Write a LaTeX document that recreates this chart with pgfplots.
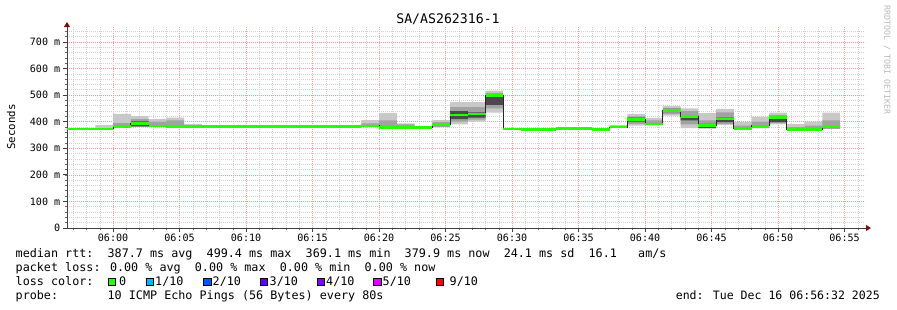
\documentclass[border=0pt]{standalone}
\usepackage{fontspec}
\setmainfont{DejaVu Sans Mono}
\usepackage{pgfplots}
\pgfplotsset{compat=1.18}
\usepackage{pgfplotstable}
\usepgfplotslibrary{fillbetween}
\usetikzlibrary{arrows.meta}
\definecolor{loss0}{HTML}{26FF00}
\definecolor{loss1}{HTML}{00B8FF}
\definecolor{loss2}{HTML}{0059FF}
\definecolor{loss3}{HTML}{5E00FF}
\definecolor{loss4}{HTML}{7E00FF}
\definecolor{loss5}{HTML}{DD00FF}
\definecolor{loss9}{HTML}{FF0000}
\definecolor{smokeA}{HTML}{C8C8C8}
\definecolor{smokeB}{HTML}{A2A2A2}
\definecolor{smokeC}{HTML}{4A4A4A}
\definecolor{arrowred}{HTML}{7F1010}
\newcommand\lgd{\fontsize{11.75bp}{14bp}\selectfont}

\pgfplotstableread{
t med lo hi ilo ihi dlo dhi
-4.000 372.6 372.6 372.6 372.6 372.6 372.6 372.6
-2.667 372.6 372.6 372.6 372.6 372.6 372.6 372.6
-1.333 372.6 372 387 372 376 372 372
0.000 384 379 429 380 395 379 383
1.333 394 380 421 381 410 382 401
2.667 384 381 410 382 400 382 382
4.000 381 380 415 381 405 381 381
5.333 381 380 391 380 384 380 380
6.667 381 381 381 381 381 381 381
8.000 381 380 387 380 383 380 380
9.333 381 381 381 381 381 381 381
10.667 381 381 381 381 381 381 381
12.000 381 381 381 381 381 381 381
13.333 381 381 381 381 381 381 381
14.667 381 381 381 381 381 381 381
16.000 381 381 381 381 381 381 381
17.333 381 380 387 380 383 380 380
18.667 384 381 406 383 394 383 383
20.000 378 376 433 377 405 377 377
21.333 378 377 394 378 390 378 378
22.667 378 378 378 378 378 378 378
24.000 390 379 406 381 398 383 392
25.333 425 390 474 400 455 410 440
26.667 429 400 474 408 455 415 435
28.000 500 434 517 450 508 463 497
29.333 372.6 372.6 372.6 372.6 372.6 372.6 372.6
30.667 370 370 370 370 370 370 370
32.000 370 370 370 370 370 370 370
33.333 374 374 374 374 374 374 374
34.667 374 374 374 374 374 374 374
36.000 371 371 371 371 371 371 371
37.333 380 378 388 379 384 379 379
38.667 409 385 428 392 420 400 415
40.000 391 386 414 388 405 388 388
41.333 442 423 459 428 452 436 448
42.667 419 376 450 390 440 405 425
44.000 385 374 432 376 405 377 392
45.333 410 388 448 392 435 398 415
46.667 375 372 398 373 385 373 373
48.000 384 375 419 378 400 378 378
49.333 417 390 434 395 425 398 413
50.667 372 371 391 372 380 372 372
52.000 371 370 400 371 385 371 371
53.333 380 374 434 376 405 375 381
54.667 380 374 434 376 405 375 381
}\smoke

\begin{document}
\begin{tikzpicture}
\path (0,0) rectangle (897bp,-310bp);
\begin{axis}[
  at={(67bp,-228bp)}, anchor=south west,
  scale only axis, width=798bp, height=202bp,
  xmin=-3.467, xmax=56.533, ymin=0, ymax=760,
  axis x line=bottom, axis y line=left,
  axis line style={draw=black!75, line width=0.8bp},
  x axis line style={-{Triangle[length=5bp,width=6bp,fill=arrowred,color=arrowred]}, shorten >=-6bp},
  y axis line style={-{Triangle[length=5bp,width=6bp,fill=arrowred,color=arrowred]}, shorten >=-4bp},
  xtick={0,5,...,55},
  xticklabels={06:00,06:05,06:10,06:15,06:20,06:25,06:30,06:35,06:40,06:45,06:50,06:55},
  minor xtick={-3,-2,...,56},
  ytick={0,100,...,700},
  yticklabels={0,100 m,200 m,300 m,400 m,500 m,600 m,700 m},
  minor ytick={20,40,...,740},
  grid=both,
  major grid style={red!40, dash pattern=on 1bp off 1bp, line width=0.6bp},
  minor grid style={black!18, dash pattern=on 1bp off 1bp, line width=0.6bp},
  tick align=outside, major tick length=4bp, minor tick length=2bp,
  tick style={black!75, line width=0.8bp},
  minor tick style={black!60, line width=0.6bp},
  ticklabel style={font=\fontsize{10.1bp}{12bp}\selectfont, text=black, inner sep=0pt},
  xticklabel style={anchor=north, yshift=-1.6bp},
  yticklabel style={anchor=east, xshift=-2.5bp},
]
\addplot[name path=A1, draw=none, const plot] table[x=t,y=lo]{\smoke};
\addplot[name path=A2, draw=none, const plot] table[x=t,y=hi]{\smoke};
\addplot[fill=smokeA, draw=none] fill between[of=A1 and A2];
\addplot[name path=B1, draw=none, const plot] table[x=t,y=ilo]{\smoke};
\addplot[name path=B2, draw=none, const plot] table[x=t,y=ihi]{\smoke};
\addplot[fill=smokeB, draw=none] fill between[of=B1 and B2];
\addplot[name path=C1, draw=none, const plot] table[x=t,y=dlo]{\smoke};
\addplot[name path=C2, draw=none, const plot] table[x=t,y=dhi]{\smoke};
\addplot[fill=smokeC, draw=none] fill between[of=C1 and C2];
\addplot[const plot, color=black!85, line width=1bp] table[x=t,y=med]{\smoke};
\addplot[jump mark left, color=loss0, line width=2.8bp] table[x=t,y=med]{\smoke};
\end{axis}
\node[font=\fontsize{13.2bp}{15bp}\selectfont] at (448bp,-19bp) {SA/AS262316-1};
\node[rotate=90, font=\fontsize{10.8bp}{12bp}\selectfont] at (11bp,-127bp) {Seconds};
\node[rotate=-90, font=\fontsize{8.3bp}{10bp}\selectfont, text=black!28] at (887bp,-60bp) {RRDTOOL / TOBI OETIKER};
\node[anchor=base west, inner sep=0, font=\lgd] at (15.5bp,-257.8bp) {median rtt:~~387.7 ms avg~~499.4 ms max~~369.1 ms min~~379.9 ms now~~24.1 ms sd~~16.1~~~am/s};
\node[anchor=base west, inner sep=0, font=\lgd] at (15.5bp,-271.8bp) {packet loss: 0.00 \% avg~~0.00 \% max~~0.00 \% min~~0.00 \% now};
\node[anchor=base west, inner sep=0, font=\lgd] at (15.5bp,-285.8bp) {loss color:};
\node[anchor=base west, inner sep=0, font=\lgd] at (15.5bp,-299.8bp) {probe:~~~~~~~10 ICMP Echo Pings (56 Bytes) every 80s};
\node[anchor=base east, inner sep=0, font=\fontsize{11.55bp}{14bp}\selectfont] at (880bp,-299.8bp) {end: Tue Dec 16 06:56:32 2025};
\node[draw=black, fill=loss0, line width=0.8bp, minimum size=7.3bp, inner sep=0, anchor=south west] at (107.7bp,-286bp) {};
\node[draw=black, fill=loss1, line width=0.8bp, minimum size=7.3bp, inner sep=0, anchor=south west] at (145.7bp,-286bp) {};
\node[draw=black, fill=loss2, line width=0.8bp, minimum size=7.3bp, inner sep=0, anchor=south west] at (203.3bp,-286bp) {};
\node[draw=black, fill=loss3, line width=0.8bp, minimum size=7.3bp, inner sep=0, anchor=south west] at (260bp,-286bp) {};
\node[draw=black, fill=loss4, line width=0.8bp, minimum size=7.3bp, inner sep=0, anchor=south west] at (316.7bp,-286bp) {};
\node[draw=black, fill=loss5, line width=0.8bp, minimum size=7.3bp, inner sep=0, anchor=south west] at (373.3bp,-286bp) {};
\node[draw=black, fill=loss9, line width=0.8bp, minimum size=7.3bp, inner sep=0, anchor=south west] at (435.7bp,-286bp) {};
\node[anchor=base west, inner sep=0, font=\lgd] at (119bp,-285.8bp) {0};
\node[anchor=base west, inner sep=0, font=\lgd] at (155bp,-285.8bp) {1/10};
\node[anchor=base west, inner sep=0, font=\lgd] at (212.5bp,-285.8bp) {2/10};
\node[anchor=base west, inner sep=0, font=\lgd] at (269.5bp,-285.8bp) {3/10};
\node[anchor=base west, inner sep=0, font=\lgd] at (326bp,-285.8bp) {4/10};
\node[anchor=base west, inner sep=0, font=\lgd] at (382.5bp,-285.8bp) {5/10};
\node[anchor=base west, inner sep=0, font=\lgd] at (449.5bp,-285.8bp) {9/10};
\end{tikzpicture}
\end{document}
